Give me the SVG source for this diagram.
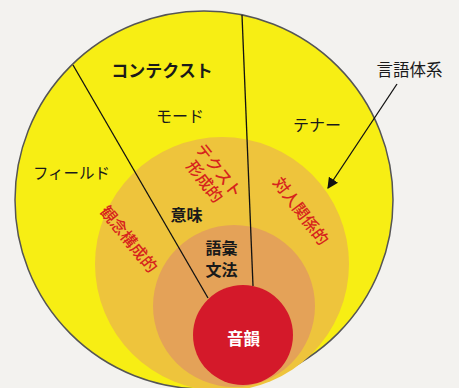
<svg xmlns="http://www.w3.org/2000/svg" width="459" height="388" viewBox="0 0 459 388">
  <style>
    text { font-family: "Noto Sans CJK JP", "Noto Sans", sans-serif; }
    .blk { fill: #1a1a1a; }
    .bold { font-weight: bold; }
    .red { fill: #d6241c; font-size: 16px; font-weight: 500; }
    .mid { text-anchor: middle; }
    .line { stroke: #111; stroke-width: 1.3; fill: none; }
  </style>
  <defs>
    <marker id="ah" viewBox="0 0 10 10" refX="9" refY="5" markerWidth="11" markerHeight="11" markerUnits="userSpaceOnUse" orient="auto">
      <path d="M0,0 L10,5 L0,10 z" fill="#111"/>
    </marker>
  </defs>
  <rect width="459" height="388" fill="#f3f2ef"/>

  <g id="context">
    <circle cx="204" cy="200" r="189" fill="#f7ee14" stroke="#555" stroke-width="1.5"/>
    <text class="blk bold mid" x="162" y="76.5" font-size="17">コンテクスト</text>
    <text class="blk mid" x="180" y="122" font-size="16">モード</text>
    <text class="blk mid" x="317" y="131" font-size="16">テナー</text>
    <text class="blk mid" x="71.5" y="179" font-size="15.5">フィールド</text>
  </g>

  <g id="meaning">
    <circle cx="222" cy="264" r="127" fill="#eec43c"/>
    <text class="blk bold mid" x="186.5" y="221" font-size="16">意味</text>
    <g transform="translate(212,176) rotate(52)">
      <text class="red mid" x="0" y="-3">テクスト</text>
      <text class="red mid" x="0" y="15">形成的</text>
    </g>
    <text class="red mid" transform="translate(301,211) rotate(53)" y="6">対人関係的</text>
    <text class="red mid" transform="translate(129,239) rotate(51)" y="6">観念構成的</text>
  </g>

  <g id="lexicogrammar">
    <circle cx="234" cy="306" r="81" fill="#e4a258"/>
    <text class="blk bold mid" x="221.5" y="254" font-size="16">語彙</text>
    <text class="blk bold mid" x="221.5" y="276" font-size="16">文法</text>
  </g>

  <g id="phonology">
    <circle cx="243" cy="335" r="50" fill="#d4192a"/>
    <text class="bold mid" x="243.5" y="345" font-size="16.5" fill="#ffffff">音韻</text>
  </g>

  <g id="language-system">
    <text class="blk mid" x="409.5" y="76" font-size="16.5">言語体系</text>
  </g>

  <g id="connectors">
    <line class="line" x1="73" y1="65" x2="208" y2="298"/>
    <line class="line" x1="242" y1="15" x2="253" y2="286"/>
    <line class="line" x1="397" y1="84" x2="328" y2="188" marker-end="url(#ah)"/>
  </g>
</svg>
